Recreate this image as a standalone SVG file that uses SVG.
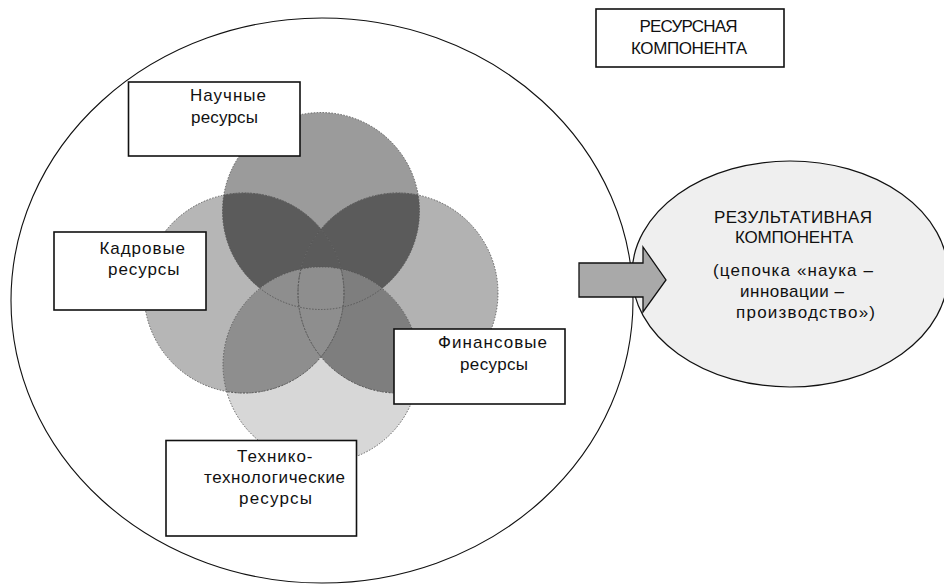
<svg xmlns="http://www.w3.org/2000/svg" width="944" height="584" viewBox="0 0 944 584">
<style>
text{font-family:"Liberation Sans",Arial,sans-serif;font-size:17px;fill:#111}
.box{fill:#fff;stroke:#111;stroke-width:1.6}
.edge{fill:none;stroke:#555;stroke-width:0.9;stroke-dasharray:1.5 1.5}
.inner{fill:none;stroke:#6e6e6e;stroke-width:1;stroke-dasharray:2 2}
</style>
<defs>
<clipPath id="cT"><circle cx="321" cy="211" r="98.5"/></clipPath>
<clipPath id="cB"><circle cx="321" cy="365" r="98"/></clipPath>
</defs>
<rect width="944" height="584" fill="#fff"/>

<g id="resource-component">
<ellipse cx="322" cy="300.5" rx="311" ry="282.5" fill="none" stroke="#111" stroke-width="1.1"/>
</g>

<g id="result-component">
<ellipse cx="790" cy="274" rx="158" ry="113" fill="#efefef" stroke="#111" stroke-width="1.2"/>
<text x="714" y="222.5" textLength="158" lengthAdjust="spacing">РЕЗУЛЬТАТИВНАЯ</text>
<text x="735" y="243" textLength="118" lengthAdjust="spacing">КОМПОНЕНТА</text>
<text x="713" y="275.5" textLength="160" lengthAdjust="spacing">(цепочка «наука –</text>
<text x="740" y="296.5" textLength="104" lengthAdjust="spacing">инновации –</text>
<text x="736" y="318" textLength="139" lengthAdjust="spacing">производство»)</text>
</g>

<g id="venn">
<circle cx="244" cy="293" r="100" fill="#b6b6b6"/>
<circle cx="398" cy="293" r="100" fill="#b2b2b2"/>
<circle cx="321" cy="211" r="98.5" fill="#9b9b9b"/>
<g clip-path="url(#cT)">
<circle cx="244" cy="293" r="100" fill="#5b5b5b"/>
<circle cx="398" cy="293" r="100" fill="#5b5b5b"/>
</g>
<circle cx="321" cy="365" r="98" fill="#d7d7d7"/>
<g clip-path="url(#cB)">
<circle cx="398" cy="293" r="100" fill="#7e7e7e"/>
<circle cx="244" cy="293" r="100" fill="#8e8e8e"/>
</g>
<g clip-path="url(#cT)">
<circle cx="244" cy="293" r="100" class="inner"/>
<circle cx="398" cy="293" r="100" class="inner"/>
</g>
<g clip-path="url(#cB)">
<circle cx="244" cy="293" r="100" class="inner"/>
<circle cx="398" cy="293" r="100" class="inner"/>
</g>
<circle cx="244" cy="293" r="100" class="edge"/>
<circle cx="398" cy="293" r="100" class="edge"/>
<circle cx="321" cy="211" r="98.5" class="edge"/>
<circle cx="321" cy="365" r="98" class="edge"/>
</g>

<g id="box-resource-title">
<rect class="box" x="596" y="9" width="188" height="58"/>
<text x="639.5" y="31.5" textLength="98" lengthAdjust="spacing">РЕСУРСНАЯ</text>
<text x="631" y="53.5" textLength="116" lengthAdjust="spacing">КОМПОНЕНТА</text>
</g>

<g id="box-science">
<rect class="box" x="128.5" y="82" width="171.5" height="74"/>
<text x="190" y="100.5" textLength="76" lengthAdjust="spacing">Научные</text>
<text x="191" y="123" textLength="67" lengthAdjust="spacing">ресурсы</text>
</g>

<g id="box-personnel">
<rect class="box" x="54" y="232" width="152" height="78"/>
<text x="99.5" y="253.5" textLength="85.5" lengthAdjust="spacing">Кадровые</text>
<text x="108" y="274.5" textLength="71.5" lengthAdjust="spacing">ресурсы</text>
</g>

<g id="box-finance">
<rect class="box" x="394" y="329" width="171" height="75"/>
<text x="438" y="347.5" textLength="109" lengthAdjust="spacing">Финансовые</text>
<text x="460" y="369.5" textLength="68" lengthAdjust="spacing">ресурсы</text>
</g>

<g id="box-tech">
<rect class="box" x="166" y="440.5" width="190.5" height="95.5"/>
<text x="237" y="461.5" textLength="75.5" lengthAdjust="spacing">Технико-</text>
<text x="204" y="483" textLength="141" lengthAdjust="spacing">технологические</text>
<text x="239" y="503.5" textLength="73" lengthAdjust="spacing">ресурсы</text>
</g>

<g id="connectors">
<path d="M579,263 H643 V247 L666,280 L643,312 V297 H579 Z" fill="#a9a9a9" stroke="#111" stroke-width="1.3" stroke-linejoin="miter"/>
</g>
</svg>
